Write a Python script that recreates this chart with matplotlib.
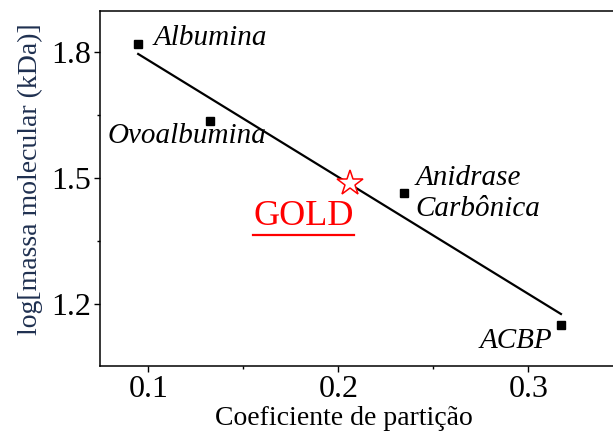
import matplotlib
matplotlib.use("Agg")
import matplotlib.pyplot as plt
from matplotlib.ticker import MultipleLocator
import numpy as np

# standards: partition coefficient vs log molecular mass
proteins = ["Albumina", "Ovoalbumina", "Anidrase\nCarbônica", "ACBP"]
coef = [0.0946, 0.1324, 0.2344, 0.3171]
logmass = [1.821, 1.635, 1.464, 1.148]

# unknown sample
gold_coef = 0.2063
gold_logmass = 1.488

W, H = 613, 434
fig = plt.figure(figsize=(W / 100, H / 100), dpi=100)
plt.rcParams["font.family"] = ["Liberation Serif", "DejaVu Serif"]

xmin, xmax = 0.0745, 0.36
left, bottom, top = 100, 366, 11
axw = (xmax - xmin) * 1900
ax = fig.add_axes([left / W, (H - bottom) / H, axw / W, (bottom - top) / H])
ax.set_xlim(xmin, xmax)
ax.set_ylim(1.0507, 1.899)

# linear fit drawn across the standards
k, b = np.polyfit(coef, logmass, 1)
xs = np.array([min(coef), max(coef)])
ax.plot(xs, k * xs + b, color="black", lw=1.6, zorder=2)

ax.plot(coef, logmass, "s", color="black", ms=5.5, zorder=3)
ax.plot(gold_coef, gold_logmass, marker="*", ms=19, mfc="white",
        mec="red", mew=1.1, zorder=4, ls="none")

offsets = {
    "Albumina": ((15, 6), "left"),
    "Ovoalbumina": ((-23, -15), "center"),
    "Anidrase\nCarbônica": ((12, 0), "left"),
    "ACBP": ((-45, -16), "center"),
}
for name, x, y in zip(proteins, coef, logmass):
    off, ha = offsets[name]
    ax.annotate(name, (x, y), xytext=off, textcoords="offset pixels",
                ha=ha, va="center", fontsize=21, fontstyle="italic",
                linespacing=1.25)

gold = ax.annotate("GOLD", (gold_coef, gold_logmass), xytext=(-47, -34),
                   textcoords="offset pixels", ha="center", va="center",
                   fontsize=26, color="red")

ax.set_xticks([0.1, 0.2, 0.3])
ax.set_xticklabels(["0.1", "0.2", "0.3"])
ax.set_yticks([1.2, 1.5, 1.8])
ax.set_yticklabels(["1.2", "1.5", "1.8"])
ax.xaxis.set_minor_locator(MultipleLocator(0.05))
ax.yaxis.set_minor_locator(MultipleLocator(0.15))
ax.tick_params(which="major", direction="out", length=4.5, width=1,
               labelsize=23, pad=2)
ax.tick_params(which="minor", direction="out", length=2.5, width=1)
ax.spines["right"].set_visible(False)
for s in ["left", "top", "bottom"]:
    ax.spines[s].set_linewidth(1.1)

ax.set_xlabel("Coeficiente de partição", fontsize=20, va="bottom")
ax.xaxis.set_label_coords((343.5 - left) / axw, -(424 - bottom) / (bottom - top) - 0.02)
ax.set_ylabel("log[massa molecular (kDa)]", fontsize=20, color="#1f3050",
              va="center")
ax.yaxis.set_label_coords(-(left - 30) / axw, (bottom - 179) / (bottom - top))

# underline GOLD
fig.canvas.draw()
bb = gold.get_window_extent().transformed(ax.transData.inverted())
ax.plot([bb.x0, bb.x1], [bb.y0 - 0.004, bb.y0 - 0.004], color="red", lw=1.6)

fig.savefig("out.png", dpi=100)
